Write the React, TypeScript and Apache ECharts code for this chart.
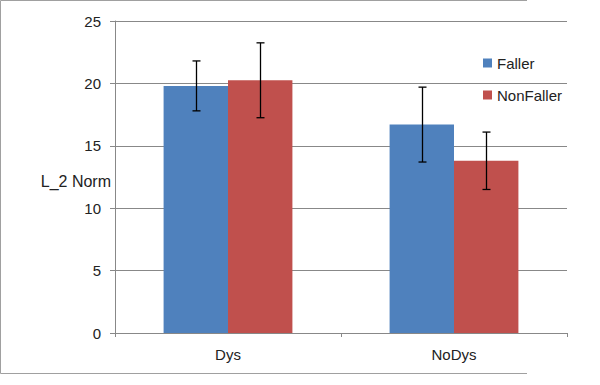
import React, { useEffect, useRef } from "react";
import * as echarts from "echarts";

const categories = ["Dys", "NoDys"];
const seriesNames = ["Faller", "NonFaller"];
const fallerValues = [19.8, 16.7];
const fallerErrors = [2.0, 3.0];
const nonFallerValues = [20.25, 13.8];
const nonFallerErrors = [3.0, 2.3];
const yTicks = { min: 0, max: 25, interval: 5 };
const yAxisTitle = "L_2 Norm";

const BAR_FRAC = 0.285;
const FONT = "'Liberation Sans', Arial, sans-serif";
const GRID_COLOR = "#888888";

function errorData(values: number[], errors: number[]) {
  return values.map((v, i) => [i, v - errors[i], v + errors[i]]);
}

function makeErrorRenderer(sign: number) {
  return (params: any, api: any) => {
    const idx = api.value(0);
    const low = api.value(1);
    const high = api.value(2);
    const catW = api.size([1, 0])[0];
    const off = (sign * catW * BAR_FRAC) / 2;
    const pHigh = api.coord([idx, high]);
    const pLow = api.coord([idx, low]);
    const x = Math.round(pHigh[0] + off) + 0.5;
    const cap = 4;
    const style = { stroke: "#000000", lineWidth: 1.3 };
    return {
      type: "group",
      children: [
        { type: "line", shape: { x1: x, y1: pHigh[1], x2: x, y2: pLow[1] }, style },
        { type: "line", shape: { x1: x - cap, y1: pHigh[1], x2: x + cap, y2: pHigh[1] }, style },
        { type: "line", shape: { x1: x - cap, y1: pLow[1], x2: x + cap, y2: pLow[1] }, style },
      ],
    };
  };
}

export default function App() {
  const ref = useRef<HTMLDivElement>(null);
  useEffect(() => {
    document.body.style.margin = "0";
    if (!ref.current) return;
    const chart = echarts.init(ref.current, null, { renderer: "svg" });
    chart.setOption({
      animation: false,
      backgroundColor: "#ffffff",
      grid: { left: 115, right: 33, top: 21, bottom: 52, containLabel: false },
      legend: {
        orient: "vertical",
        left: 483,
        top: 55,
        padding: 0,
        itemWidth: 9,
        itemHeight: 9,
        itemGap: 16,
        icon: "rect",
        data: seriesNames,
        textStyle: { fontFamily: FONT, fontSize: 15, color: "#222", lineHeight: 16 },
      },
      xAxis: {
        type: "category",
        data: categories,
        axisLine: { lineStyle: { color: GRID_COLOR } },
        axisTick: { show: true, length: 4, lineStyle: { color: GRID_COLOR } },
        axisLabel: { fontFamily: FONT, fontSize: 15, color: "#222", margin: 14 },
      },
      yAxis: {
        type: "value",
        min: yTicks.min,
        max: yTicks.max,
        interval: yTicks.interval,
        axisLine: { show: true, lineStyle: { color: GRID_COLOR } },
        axisTick: { show: true, length: 5, lineStyle: { color: GRID_COLOR } },
        axisLabel: { fontFamily: FONT, fontSize: 15, color: "#222", margin: 14 },
        splitLine: { lineStyle: { color: GRID_COLOR } },
      },
      graphic: [
        {
          type: "polyline",
          shape: { points: [[527, 0.5], [0.5, 0.5], [0.5, 373.5], [527, 373.5]] },
          style: { stroke: "#a0a0a0", fill: null, lineWidth: 1 },
          silent: true,
        },
        {
          type: "text",
          x: 111,
          y: 181,
          style: {
            text: yAxisTitle,
            fontFamily: FONT,
            fontSize: 16,
            fill: "#222",
            align: "right",
            verticalAlign: "middle",
          },
        },
      ],
      series: [
        {
          name: seriesNames[0],
          type: "bar",
          data: fallerValues,
          barWidth: BAR_FRAC * 100 + "%",
          barGap: "0%",
          itemStyle: { color: "#4F81BD" },
        },
        {
          name: seriesNames[1],
          type: "bar",
          data: nonFallerValues,
          barWidth: BAR_FRAC * 100 + "%",
          barGap: "0%",
          itemStyle: { color: "#C0504D" },
        },
        {
          type: "custom",
          renderItem: makeErrorRenderer(-1),
          data: errorData(fallerValues, fallerErrors),
          encode: { x: 0, y: [1, 2] },
          z: 10,
        },
        {
          type: "custom",
          renderItem: makeErrorRenderer(1),
          data: errorData(nonFallerValues, nonFallerErrors),
          encode: { x: 0, y: [1, 2] },
          z: 10,
        },
      ],
    });
    return () => chart.dispose();
  }, []);
  return (
    <div
      ref={ref}
      style={{ width: 600, height: 385, position: "absolute", left: 0, top: 0 }}
    />
  );
}
